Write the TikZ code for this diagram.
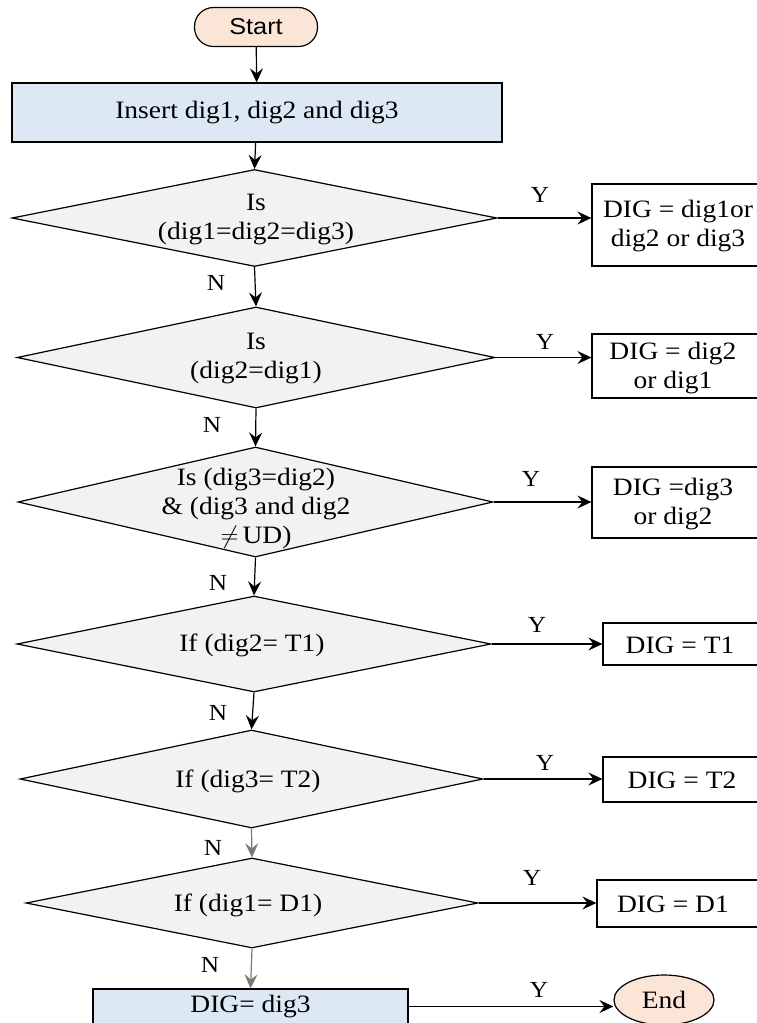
\documentclass[tikz,border=0pt]{standalone}
\usepackage{fontspec}
\setmainfont{Liberation Serif}[FakeStretch=1.1]
\newfontfamily\capsfont{Liberation Sans}[FakeStretch=1.1]
\usetikzlibrary{shapes.geometric,arrows.meta}

\definecolor{peach}{RGB}{251,229,214}
\definecolor{paleblue}{RGB}{220,233,245}
\definecolor{palegrey}{RGB}{242,242,242}
\definecolor{linkgrey}{RGB}{120,120,120}

\tikzset{
  base/.style={draw=black, line width=1.2pt, inner sep=0pt, align=center,
    font=\fontsize{25}{29}\selectfont},
  terminal/.style={base, fill=peach},
  process/.style={base, rectangle, fill=paleblue},
  decision/.style={base, diamond, fill=palegrey},
  result/.style={base, rectangle, fill=white},
  txt/.style={inner sep=0pt, align=center, font=\fontsize{25}{29}\selectfont},
  tag/.style={inner sep=0pt, font=\fontsize{23}{27}\selectfont},
  link/.style={line width=1.2pt, -{Stealth[length=14pt,width=13pt,inset=5pt]}},
  greylink/.style={link, draw=linkgrey, -{Stealth[length=14pt,width=13pt,inset=5pt,color=linkgrey]}}
}

\begin{document}
\begin{tikzpicture}[x=1pt,y=1pt]
\useasboundingbox (0,0) rectangle (756,-1023);

% terminals and main process boxes
\node[terminal, rectangle, rounded corners=19pt, minimum width=123pt, minimum height=39pt,
      font=\capsfont\fontsize{23}{27}\selectfont] (start) at (256,-27) {Start};
\node[process, minimum width=490pt, minimum height=59pt] (insert) at (257,-112.5)
      {Insert dig1, dig2 and dig3};

% decisions
\node[decision, minimum width=485pt, minimum height=97pt] (d1) at (254.5,-218) {};
\node[txt] (d1t) at (256,-220) {Is\\(dig1=dig2=dig3)};
\node[decision, minimum width=478pt, minimum height=101pt] (d2) at (256,-357.5) {};
\node[txt] (d2t) at (256,-359) {Is\\(dig2=dig1)};
\node[decision, minimum width=475pt, minimum height=110pt] (d3) at (255.5,-502) {};
\node[txt] (d3t) at (256,-508) {Is (dig3=dig2)\\\& (dig3 and dig2\\$\neq$\,UD)};
\node[decision, minimum width=474pt, minimum height=96pt] (d4) at (254,-644) {};
\node[txt] (d4t) at (252,-645) {If (dig2= T1)};
\node[decision, minimum width=463pt, minimum height=98pt] (d5) at (251.5,-779) {};
\node[txt] (d5t) at (248,-781) {If (dig3= T2)};
\node[decision, minimum width=452pt, minimum height=90pt] (d6) at (252,-903) {};
\node[txt] (d6t) at (248,-905) {If (dig1= D1)};

% outcome boxes on the right
\node[result, minimum width=170pt, minimum height=82pt] (b1) at (677,-225) {};
\node[txt] (b1t) at (678,-226) {DIG = dig1or\\dig2 or dig3};
\node[result, minimum width=170pt, minimum height=64pt] (b2) at (677,-366) {};
\node[txt] (b2t) at (673,-368) {DIG = dig2\\or dig1};
\node[result, minimum width=170pt, minimum height=71pt] (b3) at (677,-502.5) {};
\node[txt] (b3t) at (673,-504) {DIG =dig3\\or dig2};
\node[result, minimum width=159pt, minimum height=42pt] (b4) at (682.5,-644) {};
\node[txt] (b4t) at (680,-645) {DIG = T1};
\node[result, minimum width=159pt, minimum height=45pt] (b5) at (682.5,-779.5) {};
\node[txt] (b5t) at (682,-780) {DIG = T2};
\node[result, minimum width=165pt, minimum height=47pt] (b6) at (679.5,-903.5) {};
\node[txt] (b6t) at (673,-904) {DIG = D1};

% final assignment and end
\node[process, minimum width=315pt, minimum height=35pt] (fin) at (250.5,-1006.5) {DIG= dig3};
\node[terminal, ellipse, minimum width=100pt, minimum height=50pt] (end) at (664,-1000) {End};

% main flow
\draw[link] (start) -- (insert);
\draw[link] (insert) -- (d1.north);
\draw[link] (d1.south) -- (d2.north);
\draw[link] (d2.south) -- (d3.north);
\draw[link] (d3.south) -- (d4.north);
\draw[link] (d4.south) -- (d5.north);
\draw[greylink] (d5.south) -- (d6.north);
\draw[greylink] (d6.south) -- (fin.north);

% yes branches
\draw[link] (d1.east) -- (d1.east -| b1.west);
\draw[link] (d2.east) -- (d2.east -| b2.west);
\draw[link] (d3.east) -- (d3.east -| b3.west);
\draw[link] (d4.east) -- (d4.east -| b4.west);
\draw[link] (d5.east) -- (d5.east -| b5.west);
\draw[link] (d6.east) -- (d6.east -| b6.west);
\draw[link] (fin.east) -- (fin.east -| end.west);

% branch tags
\node[tag] (y1) at (540,-195) {Y};
\node[tag] (y2) at (545,-342) {Y};
\node[tag] (y3) at (531,-479) {Y};
\node[tag] (y4) at (537,-625) {Y};
\node[tag] (y5) at (545,-763) {Y};
\node[tag] (y6) at (532,-878) {Y};
\node[tag] (y7) at (539,-990) {Y};
\node[tag] (n1) at (216,-283) {N};
\node[tag] (n2) at (212,-425) {N};
\node[tag] (n3) at (218,-583) {N};
\node[tag] (n4) at (218,-713) {N};
\node[tag] (n5) at (213,-848) {N};
\node[tag] (n6) at (210,-965) {N};
\end{tikzpicture}
\end{document}
